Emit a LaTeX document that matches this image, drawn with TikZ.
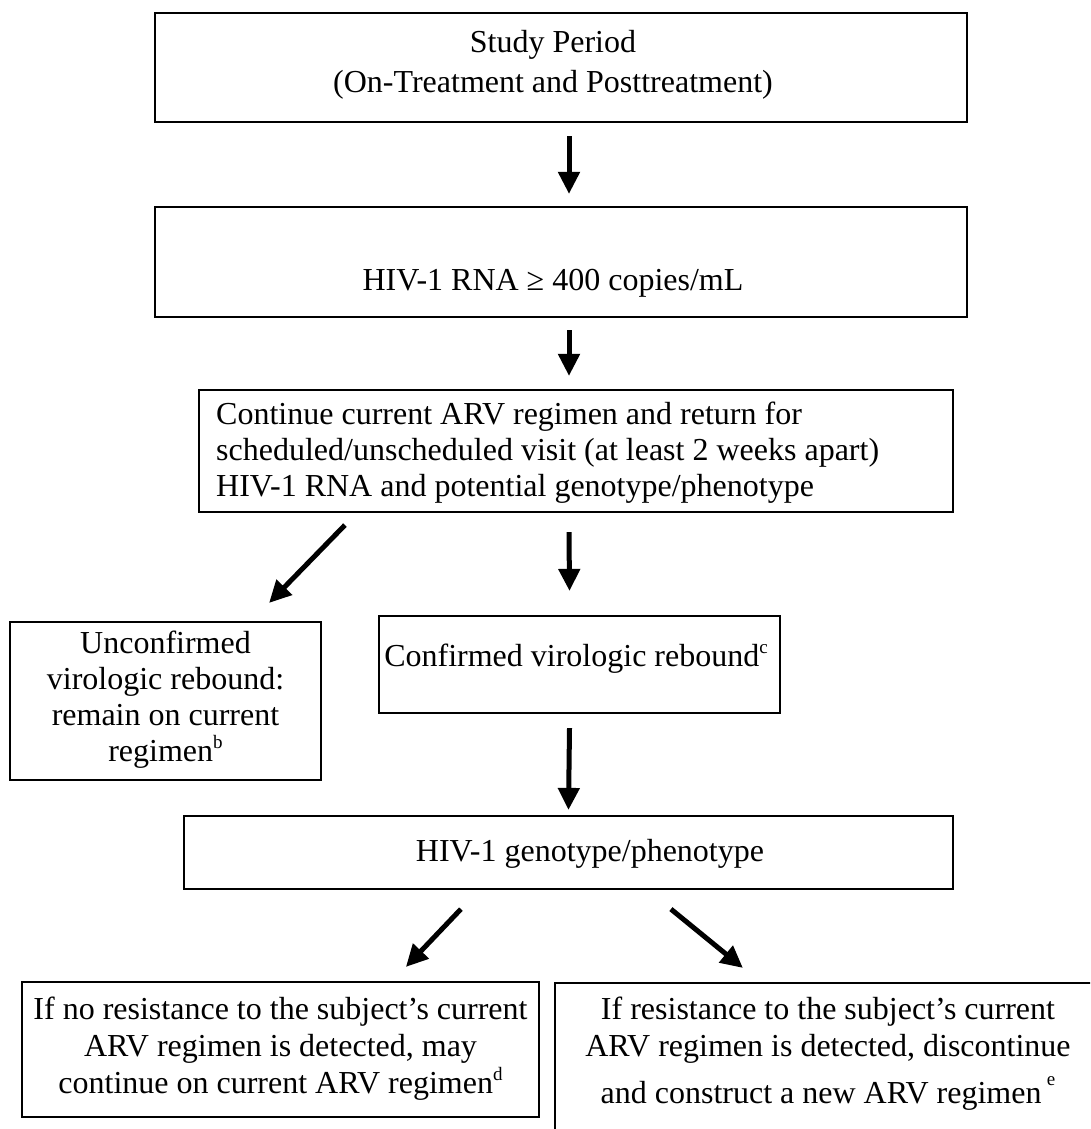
\documentclass[tikz,border=0pt]{standalone}
\usepackage{fontspec}
\setmainfont{Liberation Serif}
\usetikzlibrary{arrows.meta}
\newcommand{\supx}[1]{\raisebox{13pt}{\fontsize{19}{19}\selectfont #1}}
\begin{document}
\begin{tikzpicture}[x=1pt,y=-1pt,
  box/.style={draw=black,line width=2.2pt,rectangle,inner sep=0pt},
  txt/.style={font=\fontsize{32}{37}\selectfont,inner sep=0pt,align=center},
  arr/.style={line width=5pt,-{Triangle[length=22pt,width=21pt]}}]
\useasboundingbox (0,0) rectangle (1090,1129);
\clip (0,0) rectangle (1090,1129);
% boxes
\node[box,minimum width=812pt,minimum height=109pt] (b1) at (561,67.5) {};
\node[box,minimum width=812pt,minimum height=110pt] (b2) at (561,262) {};
\node[box,minimum width=754pt,minimum height=122pt] (b3) at (576,451) {};
\node[box,minimum width=311pt,minimum height=158pt] (b4) at (165.5,701) {};
\node[box,minimum width=401pt,minimum height=97pt] (b5) at (579.5,664.5) {};
\node[box,minimum width=769pt,minimum height=73pt] (b6) at (568.5,852.5) {};
\node[box,minimum width=517pt,minimum height=135pt] (b7) at (280.5,1049.5) {};
\node[box,minimum width=545pt,minimum height=157pt] (b8) at (827.5,1061.5) {};
% texts
\node[txt,font=\fontsize{32}{40}\selectfont] (t1) at (553,65) {Study Period\\(On-Treatment and Posttreatment)};
\node[txt] (t2) at (553,283) {HIV-1 RNA ≥ 400 copies/mL};
\node[txt,align=left,anchor=west,font=\fontsize{32}{36}\selectfont] (t3) at (216,453) {Continue current ARV regimen and return for\\scheduled/unscheduled visit (at least 2 weeks apart)\\HIV-1 RNA and potential genotype/phenotype};
\node[txt,font=\fontsize{32}{36}\selectfont] (t4) at (165.5,700) {Unconfirmed\\virologic rebound:\\remain on current\\regimen\supx{b}};
\node[txt] (t5) at (576,659) {Confirmed virologic rebound\supx{c}};
\node[txt] (t6) at (590,854) {HIV-1 genotype/phenotype};
\node[txt] (t7) at (280.5,1049) {If no resistance to the subject’s current\\ARV regimen is detected, may\\continue on current ARV regimen\supx{d}};
\node[txt] (t8) at (828,1054) {If resistance to the subject’s current\\ARV regimen is detected, discontinue\\[10pt]and construct a new ARV regimen\,\raisebox{18pt}{\fontsize{19}{19}\selectfont e}};
% arrows
\draw[arr] ([shift={(8,13)}]b1.south) -- ([shift={(8,-12)}]b2.north);
\draw[arr] ([shift={(8,12)}]b2.south) -- ([shift={(-7,-13)}]b3.north);
\draw[arr] ([shift={(147,12)}]b3.south west) -- ([shift={(-53,-18)}]b4.north east);
\draw[arr] ([shift={(-7,19)}]b3.south) -- ([shift={(-10,-24)}]b5.north);
\draw[arr] ([shift={(-10,14)}]b5.south) -- ([shift={(0,-5)}]b6.north);
\draw[arr] ([shift={(278,19)}]b6.south west) -- ([shift={(385,-14)}]b7.north west);
\draw[arr] ([shift={(488,19)}]b6.south west) -- ([shift={(189,-14)}]b8.north west);
\end{tikzpicture}
\end{document}
